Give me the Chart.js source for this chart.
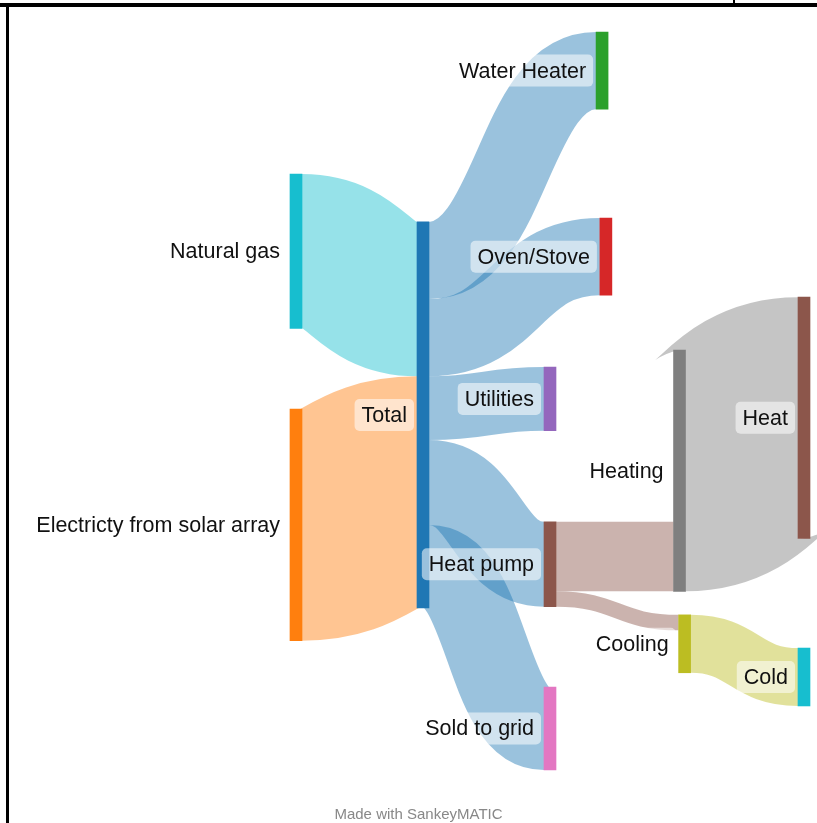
<!DOCTYPE html>
<html lang="en">
<head>
  <meta charset="UTF-8">
  <title>Home energy flows</title>
  <script src="https://cdn.jsdelivr.net/npm/chart.js"></script>
  <style>
    html, body {
      margin: 0;
      padding: 0;
      background: #fff;
    }
    #wrap {
      position: relative;
      width: 817px;
      height: 823px;
      overflow: hidden;
    }
    #sankey {
      position: absolute;
      left: 0;
      top: 0;
    }
    .rule {
      position: absolute;
      background: #000;
    }
    #credit {
      position: absolute;
      left: 0;
      top: 805px;
      width: 837px;
      text-align: center;
      font: 15px "Liberation Sans", Arial, sans-serif;
      color: #888;
    }
  </style>
</head>
<body>

  <div id="wrap">
    <canvas id="sankey" width="817" height="823"></canvas>
    <div class="rule" style="left:0;top:3px;width:817px;height:4px"></div>
    <div class="rule" style="left:6px;top:3px;width:3px;height:820px"></div>
    <div class="rule" style="left:733px;top:0;width:2px;height:4px"></div>
    <div id="credit">Made with SankeyMATIC</div>
  </div>

  <script>
    // Nodes and flows
    const nodeNames = ['Natural gas', 'Electricty from solar array', 'Total', 'Water Heater', 'Oven/Stove',
      'Utilities', 'Heat pump', 'Sold to grid', 'Heating', 'Cooling', 'Heat', 'Cold'];
    const flowFrom = ['Natural gas', 'Electricty from solar array', 'Total', 'Total', 'Total', 'Total', 'Total',
      'Heat pump', 'Heat pump', 'Heating', 'Cooling'];
    const flowTo = ['Total', 'Total', 'Water Heater', 'Oven/Stove', 'Utilities', 'Heat pump', 'Sold to grid',
      'Heating', 'Cooling', 'Heat', 'Cold'];
    const flowValues = [40, 60, 20, 20, 16.5, 22, 21.5, 18, 4, 62.5, 15];

    // Layout: column (x value) and top of each node (in flow units), like SankeyMATIC moves
    const nodeColumn = [0, 0, 1, 2.41, 2.44, 2, 2, 2, 3.02, 3.06, 4, 4];
    const nodeTop = [36.8, 97.7, 49.2, 0, 48.2, 86.8, 126.9, 169.7, 82.4, 151, 68.7, 159.6];
    const inflowAtBottom = ['Heating'];

    const nodeColors = ['#17becf', '#ff7f0e', '#1f77b4', '#2ca02c', '#d62728', '#9467bd',
      '#8c564b', '#e377c2', '#7f7f7f', '#bcbd22', '#8c564b', '#17becf'];
    const flowOpacity = 0.45;
    const labelFont = '21.5px "Liberation Sans", Arial, sans-serif';

    // node sizes = larger of in / out totals
    const inSum = nodeNames.map(n => flowTo.reduce((s, t, i) => s + (t === n ? flowValues[i] : 0), 0));
    const outSum = nodeNames.map(n => flowFrom.reduce((s, f, i) => s + (f === n ? flowValues[i] : 0), 0));
    const nodeSize = nodeNames.map((n, i) => Math.max(inSum[i], outSum[i]));

    function rgba(hex, a) {
      const v = parseInt(hex.slice(1), 16);
      return `rgba(${(v >> 16) & 255}, ${(v >> 8) & 255}, ${v & 255}, ${a})`;
    }

    // where each flow leaves its source and enters its target (flow units)
    function flowSlots() {
      const slots = flowValues.map(() => ({}));
      nodeNames.forEach((name, n) => {
        const outs = flowFrom.map((f, i) => i).filter(i => flowFrom[i] === name)
          .sort((a, b) => nodeTop[nodeNames.indexOf(flowTo[a])] - nodeTop[nodeNames.indexOf(flowTo[b])]);
        let y = nodeTop[n];
        outs.forEach(i => { slots[i].sy = y + flowValues[i] / 2; y += flowValues[i]; });

        const ins = flowTo.map((t, i) => i).filter(i => flowTo[i] === name)
          .sort((a, b) => nodeTop[nodeNames.indexOf(flowFrom[a])] - nodeTop[nodeNames.indexOf(flowFrom[b])]);
        y = nodeTop[n] + (inflowAtBottom.includes(name) ? nodeSize[n] - inSum[n] : 0);
        ins.forEach(i => { slots[i].ty = y + flowValues[i] / 2; y += flowValues[i]; });
      });
      return slots;
    }

    const flowPlugin = {
      id: 'flows',
      beforeDatasetsDraw(chart) {
        const ctx = chart.ctx;
        const yScale = chart.scales.y;
        const bars = chart.getDatasetMeta(0).data;
        const slots = flowSlots();
        ctx.save();
        ctx.lineCap = 'butt';
        flowValues.forEach((v, i) => {
          const s = nodeNames.indexOf(flowFrom[i]);
          const t = nodeNames.indexOf(flowTo[i]);
          const x0 = bars[s].x + bars[s].width / 2;
          const x1 = bars[t].x - bars[t].width / 2;
          const y0 = yScale.getPixelForValue(slots[i].sy);
          const y1 = yScale.getPixelForValue(slots[i].ty);
          const xm = (x0 + x1) / 2;
          ctx.beginPath();
          ctx.moveTo(x0, y0);
          ctx.bezierCurveTo(xm, y0, xm, y1, x1, y1);
          ctx.lineWidth = Math.abs(yScale.getPixelForValue(v) - yScale.getPixelForValue(0));
          ctx.strokeStyle = rgba(nodeColors[s], flowOpacity);
          ctx.stroke();
        });
        ctx.restore();
      },
      afterDatasetsDraw(chart) {
        const ctx = chart.ctx;
        const yScale = chart.scales.y;
        const bars = chart.getDatasetMeta(0).data;
        ctx.save();
        ctx.font = labelFont;
        ctx.textAlign = 'right';
        ctx.textBaseline = 'middle';
        nodeNames.forEach((name, i) => {
          const right = bars[i].x - bars[i].width / 2 - 10;
          const cy = yScale.getPixelForValue(nodeTop[i] + nodeSize[i] / 2);
          const w = ctx.measureText(name).width;
          ctx.fillStyle = 'rgba(255, 255, 255, 0.55)';
          ctx.beginPath();
          ctx.roundRect(right - w - 7, cy - 16, w + 14, 32, 5);
          ctx.fill();
          ctx.fillStyle = '#111';
          ctx.fillText(name, right, cy + 1);
        });
        ctx.restore();
      }
    };

    new Chart(document.getElementById('sankey'), {
      type: 'bar',
      data: {
        datasets: [{
          data: nodeNames.map((n, i) => ({ x: nodeColumn[i], y: [nodeTop[i], nodeTop[i] + nodeSize[i]] })),
          backgroundColor: nodeColors,
          borderWidth: 0,
          barThickness: 12,
          clip: false
        }]
      },
      options: {
        responsive: false,
        animation: false,
        layout: { padding: { left: 296, right: 13, top: 32, bottom: 19 } },
        scales: {
          x: { type: 'linear', min: 0, max: 4, offset: false, display: false },
          y: { type: 'linear', min: 0, max: 200, reverse: true, display: false }
        },
        plugins: {
          legend: { display: false },
          tooltip: { enabled: false }
        }
      },
      plugins: [flowPlugin]
    });
  </script>

</body>
</html>
